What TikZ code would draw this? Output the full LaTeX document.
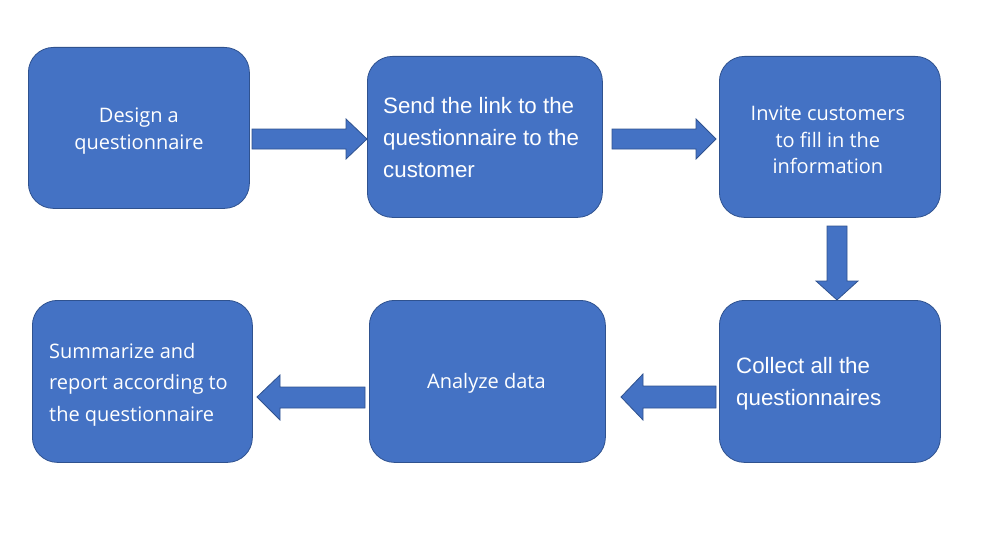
\documentclass[tikz,border=0pt]{standalone}
\usepackage{fontspec}
\setmainfont{Open Sans}
\newfontfamily\arialfont{Liberation Sans}
\definecolor{boxfill}{HTML}{4472C4}
\definecolor{boxline}{HTML}{2F528F}
\begin{document}
\begin{tikzpicture}[x=1pt,y=-1pt,
  flowbox/.style={draw=boxline, line width=0.8pt, fill=boxfill, rounded corners=25pt,
    inner sep=0pt, anchor=north west},
  boxtext/.style={text=white, inner sep=0pt},
  yahei/.style={boxtext, font=\fontsize{20}{26.5}\selectfont},
  yaheiwide/.style={boxtext, font=\fontsize{20}{31.5}\selectfont},
  arial/.style={boxtext, font=\arialfont\fontsize{22.3}{32}\selectfont},
  blockarrow/.style={draw=boxline, line width=0.8pt, fill=boxfill, line join=miter}]
\useasboundingbox (0,0) rectangle (1005,543);
% boxes
\node[flowbox, minimum width=221pt, minimum height=161pt] (b1) at (28,47) {};
\node[flowbox, minimum width=235pt, minimum height=161pt] (b2) at (367,56) {};
\node[flowbox, minimum width=221pt, minimum height=161pt] (b3) at (719,56) {};
\node[flowbox, minimum width=221pt, minimum height=162pt] (b4) at (719,300) {};
\node[flowbox, minimum width=236pt, minimum height=162pt] (b5) at (369,300) {};
\node[flowbox, minimum width=220pt, minimum height=162pt] (b6) at (32,300) {};
% texts
\node[yahei, align=center] (t1) at ([yshift=-3pt]b1.center) {Design a\\questionnaire};
\node[arial, align=left, anchor=west] (t2) at ([xshift=16pt,yshift=-1pt]b2.west) {Send the link to the\\questionnaire to the\\customer};
\node[yahei, align=center] (t3) at ([xshift=-2pt,yshift=-3pt]b3.center) {Invite customers\\to fill in the\\information};
\node[arial, align=left, anchor=west] (t4) at ([xshift=17pt,yshift=-2pt]b4.west) {Collect all the\\questionnaires};
\node[yahei, align=center] (t5) at ([xshift=-1pt,yshift=-2pt]b5.center) {Analyze data};
\node[yaheiwide, align=left, anchor=west] (t6) at ([xshift=17pt,yshift=-3pt]b6.west) {Summarize and\\report according to\\the questionnaire};
% block arrows
\draw[blockarrow] (252,129) -- (346,129) -- (346,119) -- (367,139) -- (346,159) -- (346,149) -- (252,149) -- cycle;
\draw[blockarrow] (612,129) -- (696,129) -- (696,119) -- (716,139) -- (696,159) -- (696,149) -- (612,149) -- cycle;
\draw[blockarrow] (827,226) -- (847,226) -- (847,281) -- (858,281) -- (837,300) -- (816,281) -- (827,281) -- cycle;
\draw[blockarrow] (716,386) -- (643,386) -- (643,374) -- (621,397) -- (643,420) -- (643,408) -- (716,408) -- cycle;
\draw[blockarrow] (365,387) -- (280,387) -- (280,375) -- (257,397) -- (280,420) -- (280,408) -- (365,408) -- cycle;
\end{tikzpicture}
\end{document}
